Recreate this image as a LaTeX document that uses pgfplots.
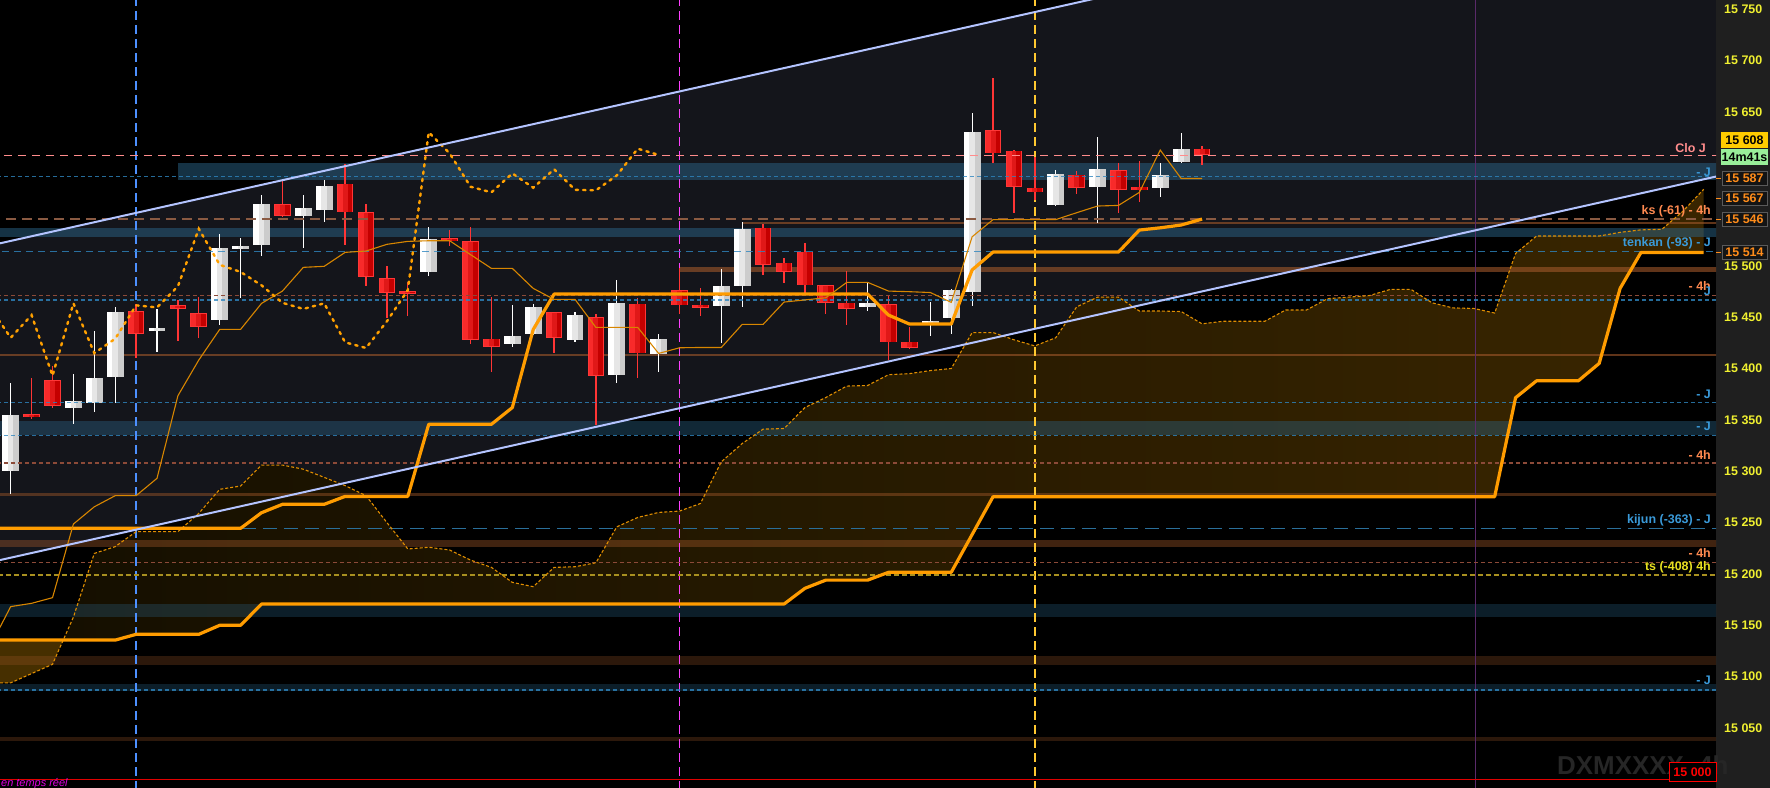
\documentclass[border=0pt]{standalone}
\usepackage{pgfplots}
\pgfplotsset{compat=1.18}
\usepackage{pgfplotstable}
\usepgfplotslibrary{fillbetween}
\usepackage{fontspec}
\setmainfont{Liberation Sans}

\definecolor{panel}{HTML}{1F1F1F}
\definecolor{axisgray}{HTML}{707070}
\definecolor{ticky}{HTML}{F0F030}
\definecolor{chan}{HTML}{14151B}
\definecolor{bandblue}{HTML}{2B6488}
\definecolor{brownb}{HTML}{A0582A}
\definecolor{brownd}{HTML}{8A5A42}
\definecolor{brownd2}{HTML}{8C4A38}
\definecolor{blued}{HTML}{2F86C0}
\definecolor{bluek}{HTML}{2A6F9A}
\definecolor{cloP}{HTML}{FF8C8C}
\definecolor{yelld}{HTML}{A89020}
\definecolor{ora}{HTML}{FF9C00}
\definecolor{oraT}{HTML}{D88600}
\definecolor{oraA}{HTML}{E08E00}
\definecolor{chik}{HTML}{FFA000}
\definecolor{chanline}{HTML}{B4C4FF}
\definecolor{cloudL}{HTML}{181100}
\definecolor{cloudR}{HTML}{402A00}
\definecolor{cloudBear}{HTML}{4D3300}
\definecolor{wA}{HTML}{CCCCCC}
\definecolor{wB}{HTML}{E6E6E6}
\definecolor{wC}{HTML}{FFFFFF}
\definecolor{rA}{HTML}{FF3636}
\definecolor{rB}{HTML}{C40000}
\definecolor{rC}{HTML}{E01818}
\definecolor{rD}{HTML}{F82A2A}
\definecolor{wickR}{HTML}{FF3535}
\definecolor{vblue}{HTML}{4D90FF}
\definecolor{vmag}{HTML}{FF40FF}
\definecolor{vyel}{HTML}{FFC830}
\definecolor{vpur}{HTML}{5A2A6A}
\definecolor{lblO}{HTML}{FF8A50}
\definecolor{lblB}{HTML}{3A9AD9}
\definecolor{lblY}{HTML}{E8E020}
\definecolor{gold}{HTML}{FFCC00}
\definecolor{tgreen}{HTML}{99EE99}
\definecolor{tagO}{HTML}{FF8C1A}
\definecolor{tagb}{HTML}{5A5A5A}
\definecolor{tagf}{HTML}{141414}
\definecolor{wm}{HTML}{262626}
\definecolor{tempsr}{HTML}{E000E0}
\definecolor{redl}{HTML}{E00000}

\newcommand{\lbl}{\fontsize{12.5}{14}\selectfont\bfseries}

% candles: index, open, high, low, close
\pgfplotstableread{
i o h l c
0 15300 15386 15278 15355
1 15355.5 15391 15351 15353
2 15389 15402 15362 15364
3 15362 15395 15346 15368
4 15367 15437 15358 15391
5 15392 15460 15367 15455
6 15456 15463 15410 15434
7 15437 15458 15416 15440
8 15462 15467 15427 15458
9 15454 15470 15430 15441
10 15447.5 15531 15442 15517
11 15516 15527 15469 15519
12 15520 15569 15510 15560
13 15560 15583 15548 15549
14 15549 15569 15517 15556
15 15554 15583.5 15543 15578
16 15580 15599 15520 15552
17 15552 15560 15480 15489
18 15488 15500 15449 15474
19 15475.5 15484 15451 15473
20 15494 15538 15490 15526
21 15527 15535 15519 15524
22 15524 15538 15424 15428
23 15429 15470 15397 15421
24 15424 15462 15421 15432
25 15434 15463 15433 15460
26 15455 15455.5 15415 15430
27 15428 15455 15426 15452
28 15450 15453 15345 15393
29 15394 15486 15386 15463.5
30 15463 15469 15391 15415
31 15414 15433.5 15397 15429
32 15476 15498.5 15453 15461.5
33 15462 15478 15451 15459.5
34 15461 15497 15425 15480
35 15480 15543 15460 15536
36 15537 15541 15491 15501
37 15503 15507.5 15483.5 15494
38 15514 15522.5 15473 15481
39 15481 15481.5 15453 15464
40 15464 15495 15442 15458
41 15460 15483.5 15456 15463.5
42 15462.5 15471 15408 15425.5
43 15426 15440 15419.5 15420
44 15443 15465 15432 15446
45 15449.4 15477 15433.5 15476.4
46 15475 15649 15461 15630
47 15632 15683 15600 15609.5
48 15612 15612.5 15551 15577
49 15576 15606 15564 15571.5
50 15559.5 15593 15558 15590
51 15589 15592 15570 15576
52 15577 15625 15542 15594
53 15593 15600 15552 15574
54 15577 15602 15562 15573.5
55 15576 15600 15567 15588
56 15601 15629 15600 15614
57 15614 15617 15598 15608
}\candles

\pgfplotstableread{
i v
-1 15129
0 15168.2
1 15171.4
2 15176.9
3 15248.6
4 15265.4
5 15276.2
6 15276.2
7 15293.1
8 15373.5
9 15408.3
10 15438.1
11 15438.1
12 15463.4
13 15475.4
14 15498.5
15 15499.5
16 15513.1
17 15514.4
18 15520.9
19 15523.8
20 15524.4
21 15524.4
22 15510.9
23 15497.5
24 15497.5
25 15478
26 15467.3
27 15467.3
28 15440
29 15440
30 15440
31 15414.7
32 15420.2
33 15420.5
34 15420.5
35 15443
36 15443
37 15464.7
38 15466.8
39 15468.9
40 15483.9
41 15483.9
42 15475.4
43 15474.8
44 15474
45 15464.4
46 15528.3
47 15545
48 15545
49 15545
50 15545
51 15551.7
52 15558.2
53 15558.8
54 15571.5
55 15612.7
56 15585
57 15585
}\tenkan

\pgfplotstableread{
i v
-1 15244.4
11 15244.4
12 15259.6
13 15267.8
15 15267.8
16 15275.5
19 15275.5
20 15345.7
23 15345.7
24 15362
25 15438
26 15472.5
41 15472.5
42 15452
43 15443.3
45 15443.3
46 15496
47 15513.4
53 15513.4
54 15534.8
55 15537
56 15539.7
57 15545.5
}\kijun

\pgfplotstableread{
i v
-1 15094
0 15094
1 15103
2 15112
3 15158
4 15220
5 15226.6
6 15241.2
7 15241.2
8 15241.2
9 15259
10 15282.4
11 15285.6
12 15306
13 15306
14 15302
15 15294
16 15286
17 15276.2
18 15250
19 15224.3
20 15226
21 15223.3
22 15213.5
23 15206.4
24 15191.8
25 15187.6
26 15206.4
27 15207
28 15210.9
29 15245.9
30 15255
31 15259.9
32 15261.2
33 15268.6
34 15309.2
35 15327
36 15341
37 15341.6
38 15362
39 15371.8
40 15382.9
41 15383.5
42 15394
43 15395
44 15398
45 15400
46 15435
47 15435
48 15428
49 15422
50 15430
51 15460
52 15469.5
53 15469.5
54 15456
55 15456
56 15455.5
57 15443.5
58 15446
59 15446
60 15446
61 15457
62 15457
63 15468
64 15469.5
65 15471
66 15477
67 15477
68 15464
69 15459
70 15458.5
71 15454
72 15512
73 15529
74 15529
75 15529
76 15529
77 15532.6
78 15535
79 15535.5
80 15553
81 15574.5
}\ssa

\pgfplotstableread{
i v
-1 15135.6
5 15135.6
6 15141.2
9 15141.2
10 15150
11 15150
12 15170.7
37 15170.7
38 15186
39 15194
41 15194
42 15201.6
45 15201.6
47 15275.2
71 15275.2
72 15371.6
73 15388
75 15388
76 15405
77 15478
78 15513
81 15513
}\ssb

\pgfplotsset{
  candle/.style 2 args={draw=none, mark=none, forget plot,
    /pgfplots/error bars/y dir=both,
    /pgfplots/error bars/y explicit,
    /pgfplots/error bars/error mark=none,
    /pgfplots/error bars/error bar style={solid, draw=#1, line width=#2}},
  up/.style={restrict expr to domain={\thisrow{c}-\thisrow{o}}{0:5000}},
  dn/.style={restrict expr to domain={\thisrow{c}-\thisrow{o}}{-5000:-0.001}},
}

\newcommand{\hl}[2]{\addplot[#1, forget plot] coordinates {(-1,#2) (82,#2)};}
\newcommand{\band}[4]{\addplot[#1, draw=none, forget plot] coordinates {(#2,#3) (82,#3) (82,#4) (#2,#4)} -- cycle;}

\begin{document}
\begin{tikzpicture}
\fill[panel] (1716bp,0) rectangle (1770bp,788bp);
\begin{axis}[
  at={(0,0)}, anchor=south west,
  scale only axis, width=1716bp, height=788bp,
  xmin=-0.512, xmax=81.59, ymin=14991.6, ymax=15758.8,
  axis background/.style={fill=black},
  axis x line=none, axis y line*=right,
  axis line style={draw=axisgray, line width=1bp, -},
  xtick=\empty,
  ytick={15050,15100,15150,15200,15250,15300,15350,15400,15450,15500,15650,15700,15750},
  yticklabels={15 050,15 100,15 150,15 200,15 250,15 300,15 350,15 400,15 450,15 500,15 650,15 700,15 750},
  tick align=outside, major tick length=5bp,
  y tick style={draw=axisgray, line width=1bp},
  yticklabel style={font=\lbl, text=ticky, anchor=west, inner sep=0pt, xshift=3bp},
  clip mode=individual,
  /pgf/number format/assume math mode=true,
]
% channel background (same layer as the cloud, drawn first)
\addplot[fill=chan, draw=none, forget plot, on layer=pre main] coordinates {(-0.512,15213.5) (81.59,15586.9) (81.59,15895.3) (-0.512,15521.9)} -- cycle;

% cloud
\addplot[draw=none, forget plot, name path=ssaP] table[x=i,y=v]{\ssa};
\addplot[draw=none, forget plot, name path=ssbP] table[x=i,y=v]{\ssb};
\addplot[cloudBear, fill opacity=0.92, forget plot] fill between[of=ssaP and ssbP, soft clip={domain=-1:2.51}];
\addplot[left color=cloudL, right color=cloudR, fill opacity=0.9, forget plot] fill between[of=ssaP and ssbP, soft clip={domain=2.51:81}];

% horizontal zones
\band{fill=bandblue, fill opacity=0.5}{8}{15584}{15600}
\band{fill=bandblue, fill opacity=0.5}{-1}{15528}{15537}
\band{fill=bandblue, fill opacity=0.4}{-1}{15335}{15349}
\band{fill=bandblue, fill opacity=0.3}{-1}{15158}{15170.6}
\band{fill=bandblue, fill opacity=0.3}{-1}{15086}{15093}
\band{fill=brownb, fill opacity=0.6}{32}{15494}{15499}
\band{fill=brownb, fill opacity=0.4}{-1}{15226}{15233}
\band{fill=brownb, fill opacity=0.28}{-1}{15111}{15120}
\band{fill=brownb, fill opacity=0.28}{-1}{15037}{15041}
\hl{brownb, opacity=0.6, line width=1.5bp}{15413.4}
\hl{brownb, opacity=0.45, line width=3bp}{15277}
\addplot[brownb, opacity=0.6, line width=2bp, forget plot] coordinates {(35,15541.6) (82,15541.6)};

% vertical lines
\addplot[vblue, line width=1.5bp, dash pattern=on 9bp off 5bp, forget plot] coordinates {(6,14990) (6,15760)};
\addplot[vmag, line width=1.5bp, dash pattern=on 9bp off 5bp, forget plot] coordinates {(32,14990) (32,15760)};
\addplot[vyel, line width=1.5bp, dash pattern=on 9bp off 5bp, forget plot] coordinates {(49,14990) (49,15760)};
\addplot[vpur, line width=1bp, forget plot] coordinates {(70.1,14990) (70.1,15760)};

% candle wicks
\addplot[up, candle={white}{1.3bp}] table[x=i, y expr={(\thisrow{h}+\thisrow{l})/2}, y error expr={(\thisrow{h}-\thisrow{l})/2}] {\candles};
\addplot[dn, candle={wickR}{1.3bp}] table[x=i, y expr={(\thisrow{h}+\thisrow{l})/2}, y error expr={(\thisrow{h}-\thisrow{l})/2}] {\candles};
% white bodies
\addplot[up, candle={wA}{16.7bp}] table[x=i, y expr={(\thisrow{o}+\thisrow{c})/2}, y error expr={max(abs(\thisrow{c}-\thisrow{o})/2,1.3)}] {\candles};
\addplot[up, candle={wB}{11.1bp}] table[x expr={\thisrow{i}-0.133}, y expr={(\thisrow{o}+\thisrow{c})/2}, y error expr={max(abs(\thisrow{c}-\thisrow{o})/2,1.3)}] {\candles};
\addplot[up, candle={wC}{5.6bp}] table[x expr={\thisrow{i}-0.267}, y expr={(\thisrow{o}+\thisrow{c})/2}, y error expr={max(abs(\thisrow{c}-\thisrow{o})/2,1.3)}] {\candles};
% red bodies
\addplot[dn, candle={rA}{16.7bp}] table[x=i, y expr={(\thisrow{o}+\thisrow{c})/2}, y error expr={max(abs(\thisrow{c}-\thisrow{o})/2,1.3)}] {\candles};
\addplot[dn, candle={rB}{14.7bp}] table[x=i, y expr={(\thisrow{o}+\thisrow{c})/2}, y error expr={max(abs(\thisrow{c}-\thisrow{o})/2-0.6,0.7)}] {\candles};
\addplot[dn, candle={rC}{9.8bp}] table[x expr={\thisrow{i}-0.117}, y expr={(\thisrow{o}+\thisrow{c})/2}, y error expr={max(abs(\thisrow{c}-\thisrow{o})/2-0.6,0.7)}] {\candles};
\addplot[dn, candle={rD}{4.9bp}] table[x expr={\thisrow{i}-0.234}, y expr={(\thisrow{o}+\thisrow{c})/2}, y error expr={max(abs(\thisrow{c}-\thisrow{o})/2-0.6,0.7)}] {\candles};

% dashed level lines
\hl{cloP, line width=1.3bp, dash pattern=on 8bp off 6bp}{15607.5}
\hl{blued, opacity=0.8, line width=1.1bp, dash pattern=on 4bp off 3bp}{15587}
\hl{brownd, line width=1.2bp, dash pattern=on 10bp off 6bp}{15545.5}
\hl{blued, opacity=0.8, line width=1.1bp, dash pattern=on 7bp off 5bp}{15514}
\hl{brownd2, line width=1.1bp, dash pattern=on 4bp off 3bp}{15471.5}
\hl{blued, opacity=0.8, line width=1.1bp, dash pattern=on 4bp off 3bp}{15466.7}
\hl{blued, opacity=0.8, line width=1.1bp, dash pattern=on 4bp off 3bp}{15367}
\hl{blued, opacity=0.8, line width=1.1bp, dash pattern=on 4bp off 3bp}{15335}
\hl{brownd2, line width=1.1bp, dash pattern=on 4bp off 3bp}{15308}
\hl{bluek, line width=1.2bp, dash pattern=on 14bp off 7bp}{15244}
\hl{brownd2, line width=1.1bp, dash pattern=on 4bp off 3bp}{15211}
\hl{yelld, line width=1.1bp, dash pattern=on 5bp off 3bp}{15199}
\hl{blued, opacity=0.8, line width=1.1bp, dash pattern=on 4bp off 3bp}{15087}
\hl{redl, line width=1.5bp}{15000}

% ichimoku lines
\addplot[oraA, line width=1.1bp, dash pattern=on 3bp off 2bp, forget plot] table[x=i,y=v]{\ssa};
\addplot[ora, line width=3.2bp, line join=round, forget plot] table[x=i,y=v]{\ssb};
\addplot[ora, line width=3.2bp, line join=round, forget plot] table[x=i,y=v]{\kijun};
\addplot[oraT, line width=1.1bp, forget plot] table[x=i,y=v]{\tenkan};
\addplot[chik, line width=2.4bp, line cap=round, dash pattern=on 2.4bp off 5bp, forget plot] table[x expr={\thisrow{i}-26}, y=c]{\candles};

% channel lines
\addplot[chanline, line width=2bp, forget plot] coordinates {(-0.512,15521.9) (81.59,15895.3)};
\addplot[chanline, line width=2bp, forget plot] coordinates {(-0.512,15213.5) (81.59,15586.9)};
\end{axis}

% labels of the levels
\tikzset{lv/.style={font=\lbl, anchor=east, inner sep=0pt}}
\node[lv, text=cloP] at (1706bp,640bp) {Clo J};
\node[lv, text=lblB] at (1711bp,616bp) {- J};
\node[lv, text=lblO] at (1711bp,577bp) {ks (-61) - 4h};
\node[lv, text=lblB] at (1711bp,545bp) {tenkan (-93) - J};
\node[lv, text=lblO] at (1711bp,502bp) {- 4h};
\node[lv, text=lblB] at (1711bp,497bp) {J};
\node[lv, text=lblB] at (1711bp,394bp) {- J};
\node[lv, text=lblB] at (1711bp,362bp) {- J};
\node[lv, text=lblO] at (1711bp,333bp) {- 4h};
\node[lv, text=lblB] at (1711bp,268bp) {kijun (-363) - J};
\node[lv, text=lblO] at (1711bp,235bp) {- 4h};
\node[lv, text=lblY] at (1711bp,221bp) {ts (-408) 4h};
\node[lv, text=lblB] at (1711bp,108bp) {- J};

% watermark and real-time note
\node[anchor=west, inner sep=0pt, font=\fontsize{26}{28}\selectfont\bfseries, text=wm] at (1557bp,21bp) {DXMXXXX, 4h};
\node[anchor=base west, inner sep=0pt, font=\fontsize{11}{12}\selectfont\itshape, text=tempsr] at (1bp,1.5bp) {en temps réel};

% price tags
\fill[gold] (1721bp,639.7bp) rectangle (1768bp,656.3bp);
\node[font=\lbl, text=black, inner sep=0pt] at (1744.5bp,648bp) {15 608};
\fill[tgreen] (1721bp,623bp) rectangle (1768bp,639bp);
\node[font=\lbl, text=black, inner sep=0pt] at (1744.5bp,631bp) {14m41s};
\foreach \yc/\txt in {609.7/15 587, 589.7/15 567, 568.8/15 546, 535.5/15 514}{
  \filldraw[fill=tagf, draw=tagb, line width=0.8bp] (1722bp,\yc bp-7bp) rectangle (1767bp,\yc bp+7bp);
  \node[font=\lbl, text=tagO, inner sep=0pt] at (1744.5bp,\yc bp) {\txt};
  \draw[tagO, line width=1.2bp] (1716bp,\yc bp) -- (1721bp,\yc bp);
}
\filldraw[fill=black, draw=red, line width=1bp] (1669bp,6bp) rectangle (1716bp,25bp);
\node[font=\lbl, text=red, inner sep=0pt] at (1692.5bp,15.5bp) {15 000};

\pgfresetboundingbox
\path[use as bounding box] (0,0) rectangle (1770bp,788bp);
\end{tikzpicture}
\end{document}
